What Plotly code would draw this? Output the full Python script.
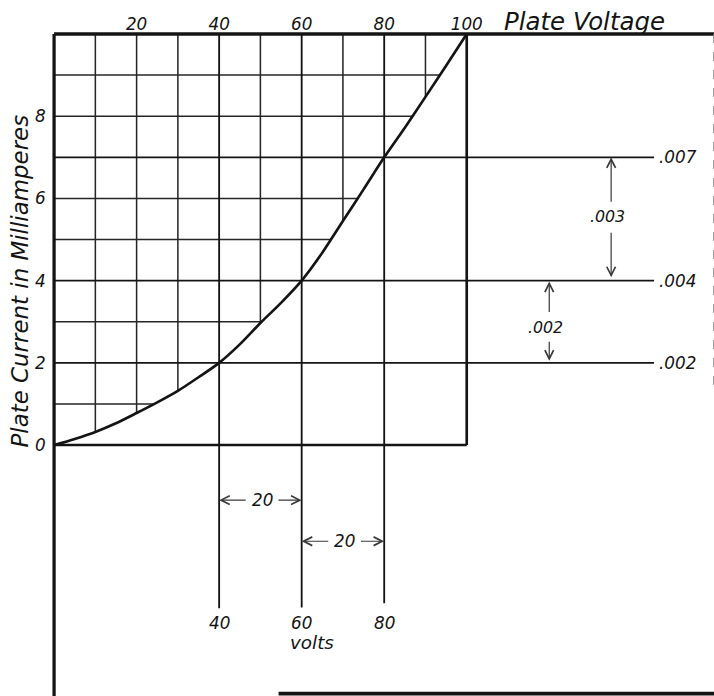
import numpy as np
import plotly.graph_objects as go

# ---------------- data ----------------
volts = [0, 5, 10, 15, 20, 25, 30, 35, 40, 45, 50, 55, 60, 65, 70, 75, 80, 85, 90, 95, 100]
current_ma = [0, 0.15, 0.32, 0.53, 0.78, 1.04, 1.32, 1.65, 2.0, 2.45, 2.97, 3.46, 4.0,
              4.68, 5.45, 6.22, 7.0, 7.72, 8.47, 9.23, 10.0]
top_ticks = [20, 40, 60, 80, 100]
left_ticks = [0, 2, 4, 6, 8]
grid_volts = [10, 20, 30, 40, 50, 60, 70, 80, 90]
grid_ma = [1, 2, 3, 4, 5, 6, 7, 8, 9]
ref_volts = [40, 60, 80]
ref_ma = [7, 4, 2]
ref_amp_labels = [".007", ".004", ".002"]

# ---------------- geometry (layout only) ----------------
OUT_W, OUT_H = 714, 696       # size of the picture
CAP_W, CAP_H = 731, 706       # page area that ends up in the picture
W, H = 736, 712               # figure size
KX, KY = CAP_W / OUT_W, CAP_H / OUT_H
K = (KX + KY) / 2             # compensation for sizes
X0_PX, X100_PX = 54, 466      # picture pixels of 0 V and 100 V
Y0_PX, Y10_PX = 445, 34       # picture pixels of 0 mA and 10 mA
sx = (X100_PX - X0_PX) / 100.0
sy = (Y0_PX - Y10_PX) / 10.0
xr = [(0 - X0_PX) / sx, (W / KX - X0_PX) / sx]
yr = [(Y0_PX - H / KY) / sy, (Y0_PX - 0) / sy]
XEDGE = (OUT_W - X0_PX) / sx
YEDGE = (Y0_PX - OUT_H) / sy
VMAX, IMAX = 100, 10
EXT_RIGHT = 145.4
EXT_DOWN = {40: -3.97, 60: -3.95, 80: -3.85}
DIM_Y = [-1.34, -2.34]
INK = "#141414"
FONT = "DejaVu Sans"


def segs(pairs):
    xs, ys = [], []
    for (a, b), (c, d) in pairs:
        xs += [a, c, None]
        ys += [b, d, None]
    return xs, ys


def line_trace(pairs, width, color=INK, dash=None):
    xs, ys = segs(pairs)
    return go.Scatter(x=xs, y=ys, mode="lines", hoverinfo="skip", showlegend=False,
                      line=dict(color=color, width=width * K, dash=dash))


fig = go.Figure()

# grid lines inside the box, cut at the curve
h_grid, h_ext = [], []
for k in grid_ma:
    if k in ref_ma:
        h_ext.append(((0, k), (EXT_RIGHT, k)))
    else:
        h_grid.append(((0, k), (float(np.interp(k, current_ma, volts)), k)))
v_grid, v_ext = [], []
for v in grid_volts:
    if v in ref_volts:
        v_ext.append(((v, IMAX), (v, EXT_DOWN[v])))
    else:
        v_grid.append(((v, IMAX), (v, float(np.interp(v, volts, current_ma)))))

fig.add_trace(line_trace(h_grid + v_grid, 1.5, "#262626"))
fig.add_trace(line_trace(h_ext + v_ext, 1.8))

# borders
fig.add_trace(line_trace([((0, IMAX), (xr[1], IMAX)), ((0, IMAX), (0, yr[0]))], 3.2))
fig.add_trace(line_trace([((VMAX, IMAX), (VMAX, 0)), ((0, 0), (VMAX, 0))], 2.6))
fig.add_trace(line_trace([((54.4, YEDGE + 0.06), (xr[1], YEDGE + 0.06))], 3.5))
fig.add_trace(line_trace([((XEDGE - 0.3, IMAX), (XEDGE - 0.3, 1.3))], 1.3, "#888888", "dash"))

# characteristic curve
fig.add_trace(go.Scatter(x=volts, y=current_ma, mode="lines", hoverinfo="skip",
                         showlegend=False, line=dict(color=INK, width=2.6 * K, shape="spline",
                                                     smoothing=0.8)))
# invisible copy to create the labelled box axes
fig.add_trace(go.Scatter(x=volts, y=current_ma, mode="lines", xaxis="x2", yaxis="y2",
                         hoverinfo="skip", showlegend=False, opacity=0,
                         line=dict(width=0.1)))

ann = []


def txt(x, y, t, size, **kw):
    d = dict(x=x, y=y, xref="x", yref="y", text=t, showarrow=False,
             font=dict(family=FONT, size=size * K, color=INK, style="italic"))
    d.update(kw)
    ann.append(d)


def arrow(xh, yh, xt, yt):
    ann.append(dict(x=xh, y=yh, ax=xt, ay=yt, xref="x", yref="y", axref="x", ayref="y",
                    text="", showarrow=True, arrowhead=5, arrowsize=1.4, arrowwidth=1.2 * K,
                    arrowcolor="#3a3a3a", standoff=0, startstandoff=0))


txt(128.6, 10.3, "Plate Voltage", 24)
txt(-8.3, 4.0, "Plate Current in Milliamperes", 22.5, textangle=-90)
for k, lab in zip(ref_ma, ref_amp_labels):
    txt(146.0, k, lab, 16.5, xanchor="left")
for v in ref_volts:
    txt(v, -4.33, str(v), 16.5)
txt(62.6, -4.8, "volts", 18)

# current differences
d1 = (ref_ma[0] - ref_ma[1]) / 1000
d2 = (ref_ma[1] - ref_ma[2]) / 1000
txt(134.0, 5.55, f"{d1:.3f}".lstrip("0"), 15.5)
arrow(135, ref_ma[0], 135, 5.88)
arrow(135, ref_ma[1] + 0.08, 135, 5.2)
txt(119.2, 2.87, f"{d2:.3f}".lstrip("0"), 15.5)
arrow(120, ref_ma[1] - 0.02, 120, 3.2)
arrow(120, ref_ma[2] + 0.05, 120, 2.55)

# voltage differences
for i, (va, vb) in enumerate(zip(ref_volts[:-1], ref_volts[1:])):
    mid = (va + vb) / 2 + 0.4
    txt(mid, DIM_Y[i], str(vb - va), 16.5)
    arrow(va, DIM_Y[i], mid - 3.6, DIM_Y[i])
    arrow(vb, DIM_Y[i], mid + 3.6, DIM_Y[i])

tickfont = dict(family=FONT, size=16.5 * K, color=INK, style="italic")
dx = [(0 - xr[0]) / (xr[1] - xr[0]), (VMAX - xr[0]) / (xr[1] - xr[0])]
dy = [(0 - yr[0]) / (yr[1] - yr[0]), (IMAX - yr[0]) / (yr[1] - yr[0])]

fig.update_layout(
    width=W, height=H, margin=dict(l=0, r=0, t=0, b=0),
    paper_bgcolor="white", plot_bgcolor="rgba(0,0,0,0)",
    showlegend=False, annotations=ann,
    xaxis=dict(range=xr, visible=False, fixedrange=True),
    yaxis=dict(range=yr, visible=False, fixedrange=True),
    xaxis2=dict(range=[0, VMAX], domain=dx, anchor="free", position=dy[1] - 4.0 * KY / H,
                side="top", tickvals=top_ticks, ticktext=[str(t) for t in top_ticks],
                ticks="outside", ticklen=1, tickcolor="rgba(0,0,0,0)",
                showgrid=False, zeroline=False, showline=False, tickfont=tickfont,
                fixedrange=True),
    yaxis2=dict(range=[0, IMAX], domain=dy, anchor="x2", side="left",
                tickvals=left_ticks, ticktext=[str(t) for t in left_ticks],
                ticks="outside", ticklen=4, tickcolor="rgba(0,0,0,0)",
                showgrid=False, zeroline=False, showline=False, tickfont=tickfont,
                fixedrange=True),
)

fig.write_html(
    "out.html",
    config={"displayModeBar": False},
    post_script="document.body.style.margin='0';document.body.style.overflow='hidden';",
)
